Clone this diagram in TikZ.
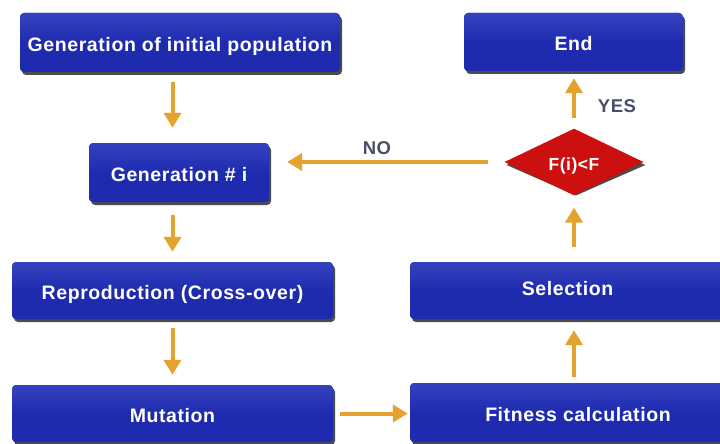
\documentclass[tikz,border=0pt]{standalone}
\usepackage{fontspec}
\setmainfont{Liberation Sans}
\newfontfamily\wideb[LetterSpace=3]{Liberation Sans}
\usetikzlibrary{arrows.meta,shapes.geometric}
\definecolor{boxblue}{HTML}{1F2BAE}
\definecolor{boxtop}{HTML}{3442C0}
\definecolor{arr}{HTML}{E6A22E}
\definecolor{lbl}{HTML}{4A4E6A}
\definecolor{dred}{HTML}{CC1010}
\tikzset{
  x=1pt, y=-1pt,
  box/.style={rectangle, rounded corners=4pt, fill=boxblue, text=white,
    font=\wideb\bfseries\fontsize{19.5}{21}\selectfont, inner sep=0pt,
    top color=boxtop, bottom color=boxblue, middle color=boxblue,
    text height=18pt, text depth=0pt, draw=none},
  shad/.style={fill=black!70, rounded corners=4pt},
  arrw/.style={draw=arr, line width=4pt, -{Triangle[length=15pt,width=17pt]}},
  lab/.style={text=lbl, font=\wideb\bfseries\fontsize{18.5}{20}\selectfont},
}
\newcommand{\boxat}[7][]{% opts, name, x1, y1, x2, y2, text
  \fill[shad] (#3+2,#4+3) rectangle (#5+2,#6+3);
  \node[box, minimum width=#5-#3, minimum height=#6-#4, #1] (#2) at ({(#3+#5)/2},{(#4+#6)/2}) {#7};
}
\begin{document}
\begin{tikzpicture}
\clip (0,0) rectangle (720,444);
\fill[white] (0,0) rectangle (720,444);
\boxat{init}{20}{13}{340}{72}{Generation of initial population}
\boxat{gen}{89}{143}{269}{202}{Generation \# i}
\boxat{rep}{12}{262}{333}{319}{Reproduction (Cross-over)}
\boxat{mut}{12}{385}{333}{442}{Mutation}
\boxat{fit}{410}{383}{746}{442}{Fitness calculation}
\boxat[text height=10pt]{sel}{410}{262}{725}{319}{Selection}
\boxat{end}{464}{13}{683}{71}{End}
\node[diamond, fill=black!70, minimum width=139pt, minimum height=61pt, inner sep=0pt] at (576,165) {};
\node[diamond, fill=dred, text=white, font=\wideb\bfseries\fontsize{17.5}{19}\selectfont,
  text height=16pt, text depth=0pt,
  minimum width=139pt, minimum height=61pt, inner sep=0pt] (dec) at (574,162) {F(i)<F};
\draw[arrw, shorten <=10pt, shorten >=15pt] (rep.south |- init.south) -- (rep.south |- gen.north);
\draw[arrw, shorten <=13pt, shorten >=10pt] (rep.south |- gen.south) -- (rep.north);
\draw[arrw, shorten <=9pt, shorten >=10pt] (rep.south) -- (rep.south |- mut.north);
\draw[arrw, shorten <=7pt, shorten >=2pt] (mut.east) -- (mut.east -| fit.west);
\draw[arrw, shorten <=6pt, shorten >=11pt] (dec.south |- fit.north) -- (dec.south |- sel.south);
\draw[arrw, shorten <=15pt, shorten >=12pt] (dec.south |- sel.north) -- (dec.south);
\draw[arrw, shorten <=10pt, shorten >=7pt] (dec.north) -- (dec.north |- end.south);
\draw[arrw, shorten <=16pt, shorten >=18pt] (dec.west) -- (dec.west -| gen.east);
\node[lab] (no) at (377,148) {NO};
\node[lab] (yes) at (617,106) {YES};
\end{tikzpicture}
\end{document}
